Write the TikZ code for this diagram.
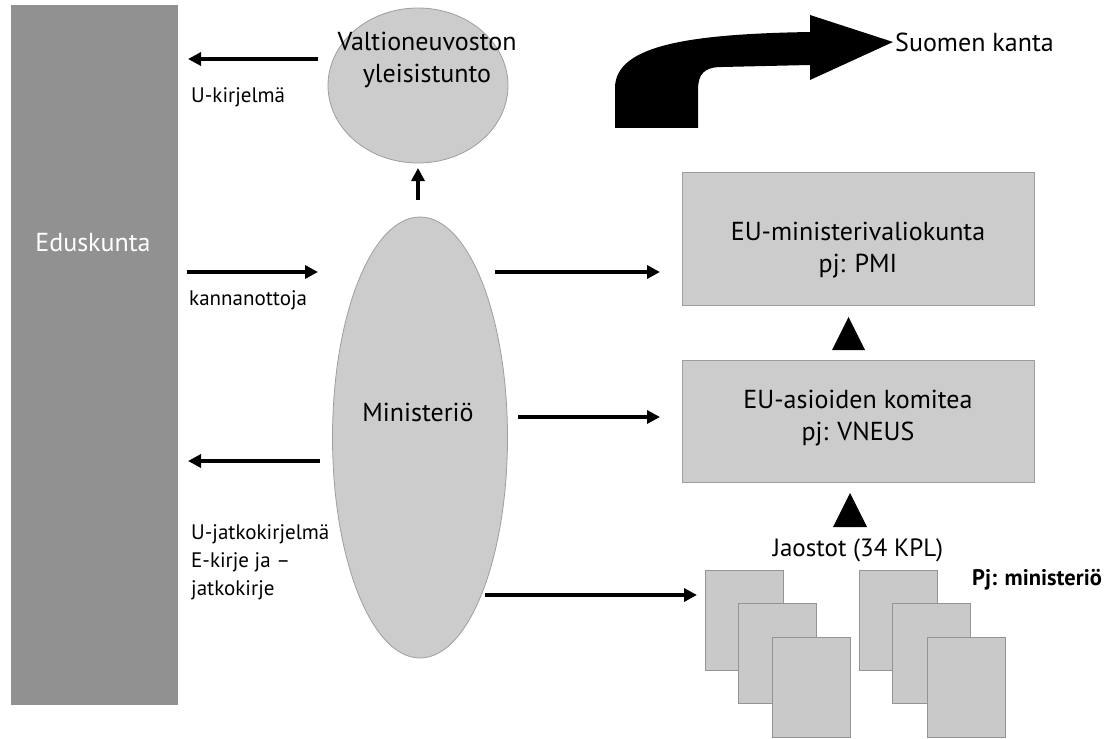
\documentclass[tikz,border=0pt]{standalone}
\usepackage{fontspec}
\setmainfont{PT Sans}
\usetikzlibrary{shapes.geometric,arrows.meta}
\definecolor{barfill}{gray}{0.57}
\definecolor{shapefill}{gray}{0.80}
\definecolor{shapeedge}{gray}{0.62}
\definecolor{pagefill}{gray}{0.79}
\definecolor{pageedge}{gray}{0.58}
\begin{document}
\begin{tikzpicture}[x=1pt,y=-1pt,
  bigtxt/.style={font=\fontsize{26}{32}\selectfont, inner sep=0pt, align=center},
  smalltxt/.style={font=\fontsize{21}{28}\selectfont, inner sep=0pt, align=left},
  shapebox/.style={draw=shapeedge, fill=shapefill, line width=0.8pt, inner sep=0pt},
  pagebox/.style={draw=pageedge, fill=pagefill, line width=0.8pt, minimum width=78pt, minimum height=100pt, inner sep=0pt},
  arr/.style={line width=3.4pt, -{Triangle[length=13pt,width=13pt]}},
  tri/.style={fill=black}
]
\useasboundingbox (0,0) rectangle (1115,738);

% Eduskunta
\node[fill=barfill, inner sep=0pt, minimum width=167pt, minimum height=700pt] (edus) at (94.5,355) {};
\node[bigtxt, text=white] (edust) at (93,243) {Eduskunta};

% Valtioneuvoston yleisistunto
\node[shapebox, ellipse, minimum width=180pt, minimum height=155pt] (vn) at (418,85.5) {};
\node[bigtxt] (vnt) at (427,60) {Valtioneuvoston\\yleisistunto};

% Ministerio
\node[shapebox, ellipse, minimum width=175pt, minimum height=441pt] (min) at (420,437.5) {};
\node[bigtxt] (mint) at (418,412) {Ministeriö};

% boxes
\node[shapebox, minimum width=352pt, minimum height=133pt] (emv) at (858,238.5) {};
\node[bigtxt] (emvt) at (858,250) {EU-ministerivaliokunta\\pj: PMI};
\node[shapebox, minimum width=352pt, minimum height=122pt] (eak) at (858,421) {};
\node[bigtxt] (eakt) at (858,418) {EU-asioiden komitea\\pj: VNEUS};

% triangles
\fill[tri] (832,350) -- (865,350) -- (848.5,317) -- cycle;
\fill[tri] (833,527) -- (867,527) -- (850,493) -- cycle;

% Jaostot
\node[bigtxt, font=\fontsize{25}{30}\selectfont] (jao) at (858,550) {Jaostot (34 KPL)};
\node[inner sep=0pt, font=\fontsize{22.5}{26}\selectfont\bfseries] (pj) at (1037,580) {Pj: ministeriö};
\node[pagebox, anchor=north west] (p1) at (705,570) {};
\node[pagebox, anchor=north west] (p2) at (738,603) {};
\node[pagebox, anchor=north west] (p3) at (772,637) {};
\node[pagebox, anchor=north west] (p4) at (859,570) {};
\node[pagebox, anchor=north west] (p5) at (892,603) {};
\node[pagebox, anchor=north west] (p6) at (927,637) {};

% big curved arrow
\fill[black] (615,128) -- (615,88) .. controls (615,45) and (690,34) .. (810,32)
  -- (810,15) -- (893,42) -- (810,80) -- (810,65) -- (722,67)
  .. controls (704,67) and (698,74) .. (698,90) -- (698,128) -- cycle;
\node[bigtxt, anchor=west] (fin) at (895,42) {Suomen kanta};

% connector ends
\coordinate (a1s) at (318,59);   \coordinate (a1e) at (188,59);
\coordinate (a2s) at (187,272);  \coordinate (a2e) at (318,272);
\coordinate (a3s) at (320,461);  \coordinate (a3e) at (188,461);
\coordinate (ups) at (418,200);  \coordinate (upe) at (418,168);
\coordinate (r1s) at (495,272);  \coordinate (r1e) at (660,272);
\coordinate (r2s) at (518,417);  \coordinate (r2e) at (660,417);
\coordinate (r3s) at (485,595);  \coordinate (r3e) at (697,595);

\draw[arr] (a1s) -- (a1e);
\draw[arr] (a2s) -- (a2e);
\draw[arr] (a3s) -- (a3e);
\draw[arr] (ups) -- (upe);
\draw[arr] (r1s) -- (r1e);
\draw[arr] (r2s) -- (r2e);
\draw[arr] (r3s) -- (r3e);

% labels
\node[smalltxt, anchor=west] (l1) at (191,97) {U-kirjelmä};
\node[smalltxt, anchor=west] (l2) at (189,300) {kannanottoja};
\node[smalltxt, anchor=north west] (l3) at (191,524) {U-jatkokirjelmä\\E-kirje ja –\\jatkokirje};
\end{tikzpicture}
\end{document}
